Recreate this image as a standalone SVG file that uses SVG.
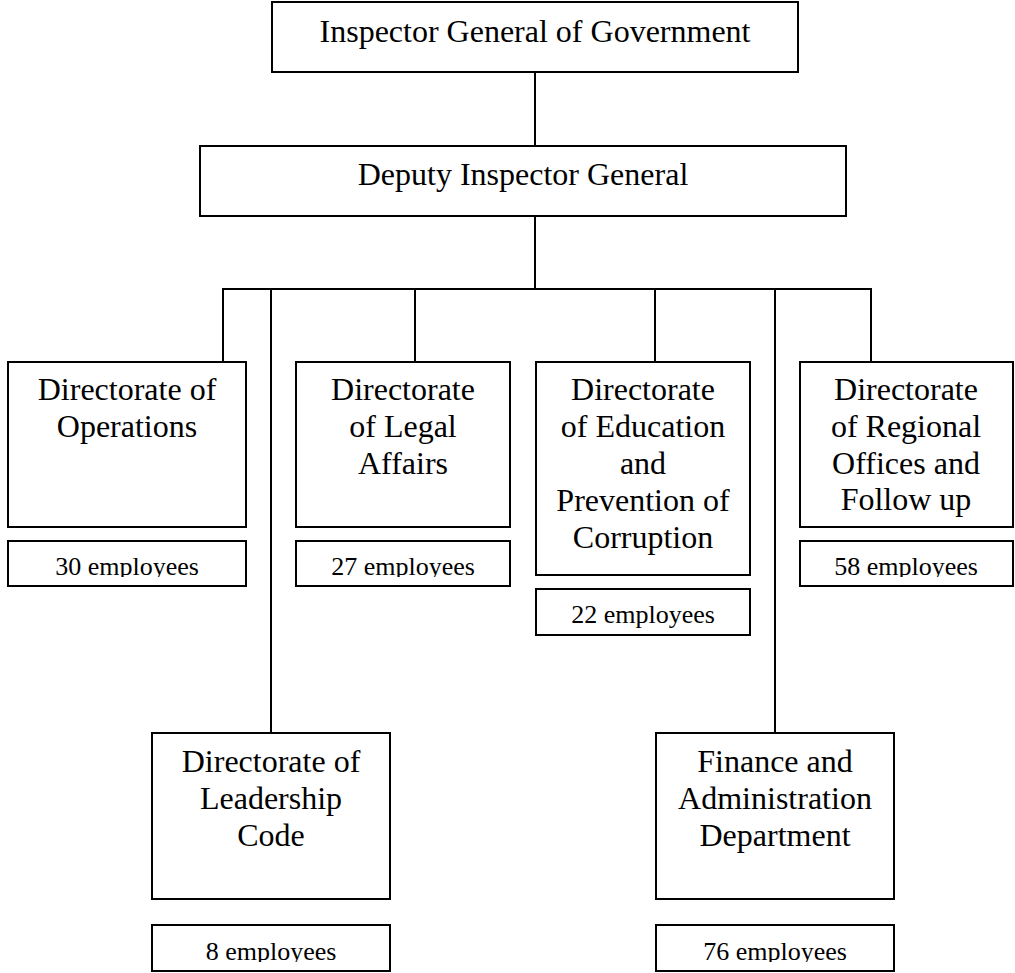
<svg xmlns="http://www.w3.org/2000/svg" width="1015" height="973" viewBox="0 0 1015 973">
  <style>
    .box { fill: #ffffff; stroke: #000000; stroke-width: 2; }
    .link { fill: none; stroke: #000000; stroke-width: 2; }
    .title { font-family: "Liberation Serif", "Times New Roman", serif; font-size: 32px; fill: #000000; text-anchor: middle; }
    .count { font-family: "Liberation Serif", "Times New Roman", serif; font-size: 26px; fill: #000000; text-anchor: middle; }
  </style>
  <defs>
    <!-- staff-count labels are cut off just below their baseline -->
    <clipPath id="clipRow1"><rect x="0" y="540" width="1015" height="37"/></clipPath>
    <clipPath id="clipEdu"><rect x="0" y="588" width="1015" height="44"/></clipPath>
    <clipPath id="clipRow2"><rect x="0" y="924" width="1015" height="38"/></clipPath>
  </defs>
  <rect width="1015" height="973" fill="#ffffff"/>

  <g id="connectors">
    <line class="link" x1="535" y1="72" x2="535" y2="146"/>
    <line class="link" x1="535" y1="216" x2="535" y2="289"/>
    <line class="link" x1="222" y1="289" x2="872" y2="289"/>
    <line class="link" x1="223" y1="289" x2="223" y2="362"/>
    <line class="link" x1="415" y1="289" x2="415" y2="362"/>
    <line class="link" x1="655" y1="289" x2="655" y2="362"/>
    <line class="link" x1="871" y1="289" x2="871" y2="362"/>
    <line class="link" x1="271" y1="289" x2="271" y2="733"/>
    <line class="link" x1="775" y1="289" x2="775" y2="733"/>
  </g>

  <g id="inspector-general">
    <rect class="box" x="272" y="2" width="526" height="70"/>
    <text class="title" x="535" y="42">Inspector General of Government</text>
  </g>

  <g id="deputy-inspector-general">
    <rect class="box" x="200" y="146" width="646" height="70"/>
    <text class="title" x="523" y="185">Deputy Inspector General</text>
  </g>

  <g id="operations">
    <rect class="box" x="8" y="362" width="238" height="165"/>
    <text class="title" x="127" y="400">Directorate of</text>
    <text class="title" x="127" y="437">Operations</text>
    <rect class="box" x="8" y="541" width="238" height="45"/>
    <text class="count" x="127" y="575" clip-path="url(#clipRow1)">30 employees</text>
  </g>

  <g id="legal-affairs">
    <rect class="box" x="296" y="362" width="214" height="165"/>
    <text class="title" x="403" y="400">Directorate</text>
    <text class="title" x="403" y="437">of Legal</text>
    <text class="title" x="403" y="474">Affairs</text>
    <rect class="box" x="296" y="541" width="214" height="45"/>
    <text class="count" x="403" y="575" clip-path="url(#clipRow1)">27 employees</text>
  </g>

  <g id="education-prevention">
    <rect class="box" x="536" y="362" width="214" height="213"/>
    <text class="title" x="643" y="400">Directorate</text>
    <text class="title" x="643" y="437">of Education</text>
    <text class="title" x="643" y="474">and</text>
    <text class="title" x="643" y="511">Prevention of</text>
    <text class="title" x="643" y="548">Corruption</text>
    <rect class="box" x="536" y="589" width="214" height="46"/>
    <text class="count" x="643" y="623" clip-path="url(#clipEdu)">22 employees</text>
  </g>

  <g id="regional-offices">
    <rect class="box" x="800" y="362" width="213" height="165"/>
    <text class="title" x="906" y="400">Directorate</text>
    <text class="title" x="906" y="437">of Regional</text>
    <text class="title" x="906" y="474">Offices and</text>
    <text class="title" x="906" y="510">Follow up</text>
    <rect class="box" x="800" y="541" width="213" height="45"/>
    <text class="count" x="906" y="575" clip-path="url(#clipRow1)">58 employees</text>
  </g>

  <g id="leadership-code">
    <rect class="box" x="152" y="733" width="238" height="166"/>
    <text class="title" x="271" y="772">Directorate of</text>
    <text class="title" x="271" y="809">Leadership</text>
    <text class="title" x="271" y="846">Code</text>
    <rect class="box" x="152" y="925" width="238" height="46"/>
    <text class="count" x="271" y="960" clip-path="url(#clipRow2)">8 employees</text>
  </g>

  <g id="finance-administration">
    <rect class="box" x="656" y="733" width="238" height="166"/>
    <text class="title" x="775" y="772">Finance and</text>
    <text class="title" x="775" y="809">Administration</text>
    <text class="title" x="775" y="846">Department</text>
    <rect class="box" x="656" y="925" width="238" height="46"/>
    <text class="count" x="775" y="960" clip-path="url(#clipRow2)">76 employees</text>
  </g>
</svg>
